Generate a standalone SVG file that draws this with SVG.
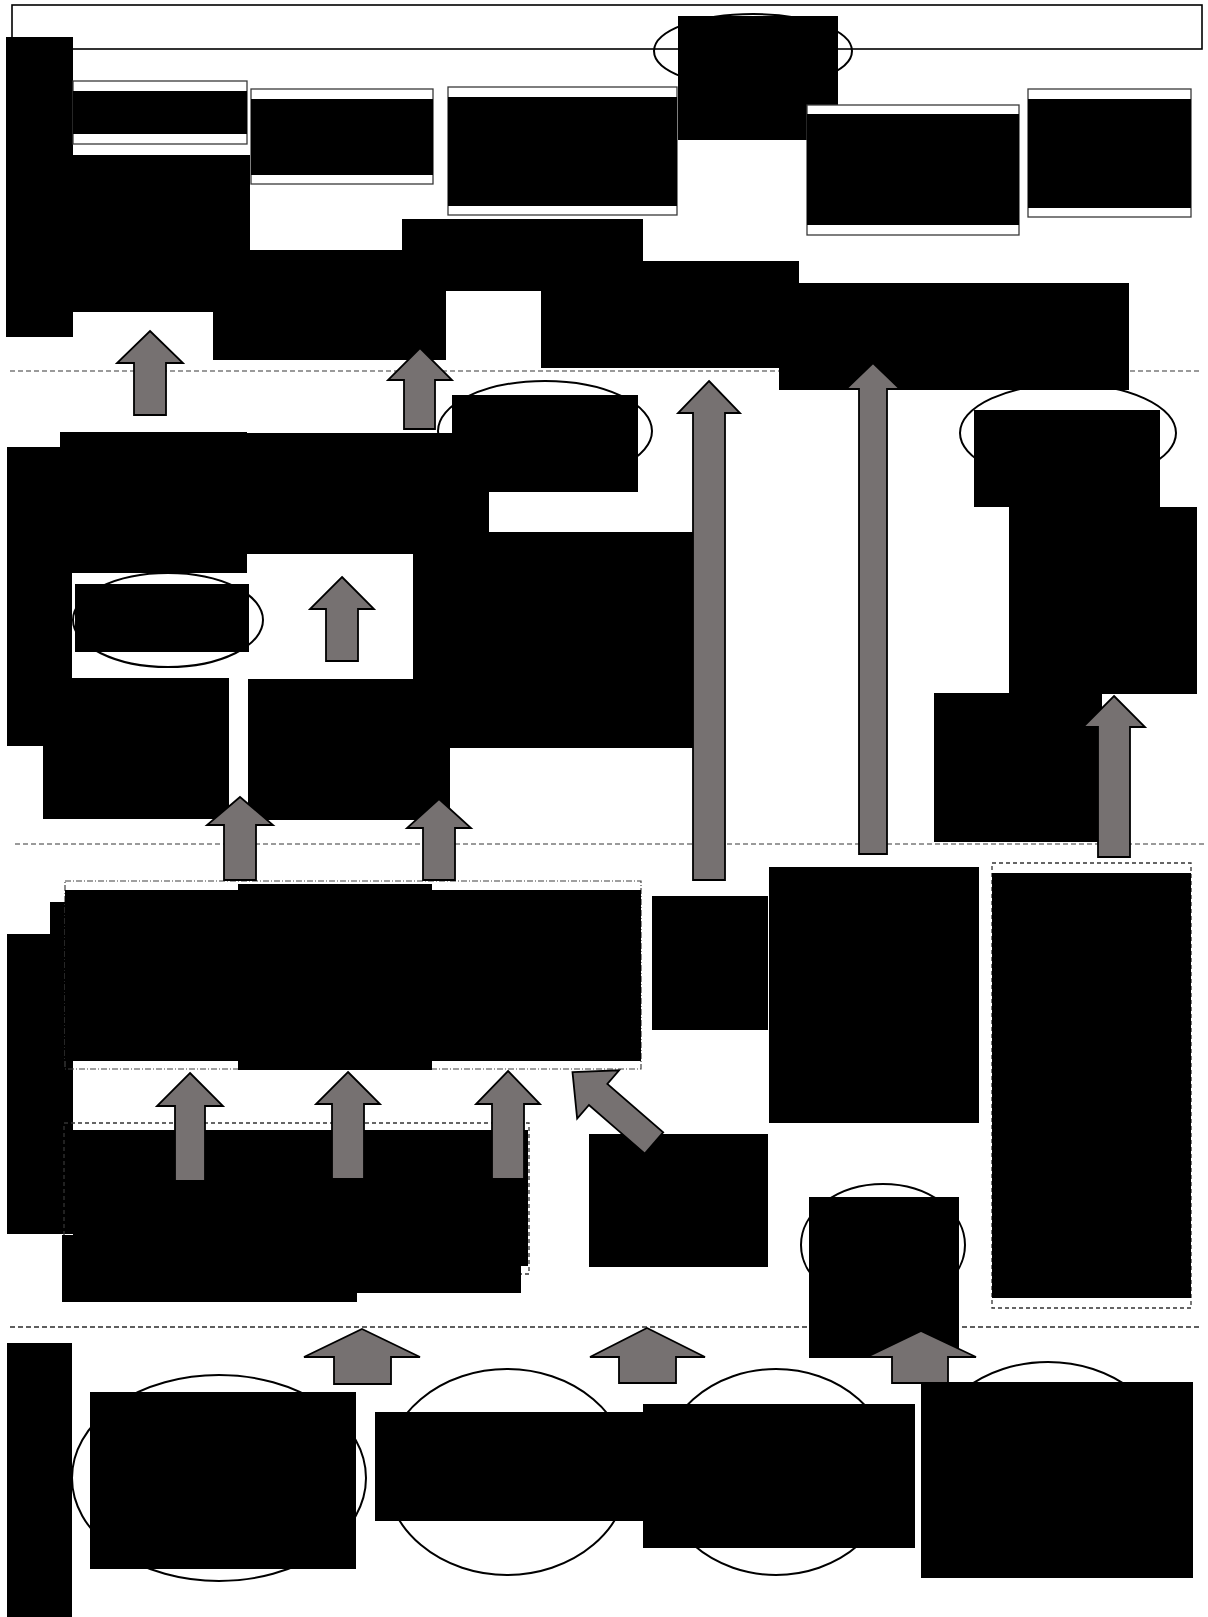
<svg xmlns="http://www.w3.org/2000/svg" width="1208" height="1617" viewBox="0 0 1208 1617">
<style>
.bg{fill:#ffffff}
.k{fill:#000000}
.ol{fill:#ffffff;stroke:#3a3a3a;stroke-width:1.3}
.hdr{fill:#ffffff;stroke:#000000;stroke-width:1.6}
.el{fill:none;stroke:#000000;stroke-width:2}
.sep{fill:none;stroke:#7a7a7a;stroke-width:1.5;stroke-dasharray:5 3}
.sep2{fill:none;stroke:#2a2a2a;stroke-width:1.3;stroke-dasharray:5 3}
.dd{fill:none;stroke:#404040;stroke-width:1.2;stroke-dasharray:6 2 1 2}
.ds{fill:none;stroke:#333333;stroke-width:1.3;stroke-dasharray:4 3}
.ar{fill:#767171;stroke:#000000;stroke-width:1.8;stroke-linejoin:miter}
</style>
<rect class="bg" x="0" y="0" width="1208" height="1617"/>

<!-- separators -->
<line class="sep" x1="10" y1="371" x2="1202" y2="371"/>
<line class="sep" x1="15" y1="844" x2="1207" y2="844"/>
<line class="sep2" x1="10" y1="1327" x2="1202" y2="1327"/>

<!-- top header -->
<g id="header">
<rect class="hdr" x="12" y="5" width="1190" height="44"/>
<ellipse class="el" cx="753" cy="51" rx="99" ry="37"/>
<rect class="k" x="678" y="16" width="160" height="124"/>
</g>
<g id="left-label-1"><rect class="k" x="6" y="37" width="67" height="300"/></g>

<g id="box1">
<rect class="ol" x="73" y="81" width="174" height="63"/>
<rect class="k" x="73" y="91" width="174" height="43"/>
</g>
<g id="box2">
<rect class="ol" x="251" y="89" width="182" height="95"/>
<rect class="k" x="251" y="99" width="182" height="76"/>
</g>
<g id="box3">
<rect class="ol" x="448" y="87" width="229" height="128"/>
<rect class="k" x="448" y="97" width="229" height="109"/>
</g>
<g id="box4">
<rect class="ol" x="807" y="105" width="212" height="130"/>
<rect class="k" x="807" y="114" width="212" height="111"/>
</g>
<g id="box5">
<rect class="ol" x="1028" y="89" width="163" height="128"/>
<rect class="k" x="1028" y="99" width="163" height="109"/>
</g>
<g id="top-text">
<rect class="k" x="73" y="155" width="177" height="157"/>
<rect class="k" x="213" y="250" width="233" height="110"/>
<rect class="k" x="402" y="219" width="241" height="72"/>
<rect class="k" x="541" y="261" width="258" height="107"/>
</g>

<!-- middle section -->
<g id="mid-ellipse-2">
<ellipse class="el" cx="545" cy="431" rx="107" ry="50"/>
<rect class="k" x="452" y="395" width="186" height="97"/>
</g>
<g id="mid-ellipse-right">
<ellipse class="el" cx="1068" cy="433" rx="108" ry="49"/>
<rect class="k" x="974" y="410" width="186" height="97"/>
<rect class="k" x="1009" y="507" width="188" height="187"/>
<rect class="k" x="934" y="693" width="168" height="149"/>
</g>
<g id="top-right-text"><rect class="k" x="779" y="283" width="350" height="107"/></g>

<g id="left-label-2"><rect class="k" x="7" y="447" width="65" height="299"/></g>
<g id="mid-left">
<rect class="k" x="60" y="432" width="187" height="141"/>
<rect class="k" x="247" y="433" width="242" height="121"/>
<rect class="k" x="413" y="532" width="280" height="216"/>
<ellipse class="el" cx="168" cy="620" rx="95" ry="47"/>
<rect class="k" x="75" y="584" width="174" height="68"/>
<rect class="k" x="43" y="678" width="186" height="141"/>
<rect class="k" x="248" y="679" width="202" height="141"/>
</g>

<!-- lower-middle section -->
<g id="left-label-3">
<rect class="k" x="7" y="934" width="66" height="300"/>
<rect class="k" x="50" y="902" width="23" height="167"/>
</g>
<g id="group-dashdot">
<rect class="dd" x="65" y="881" width="576" height="188"/>
<rect class="k" x="65" y="890" width="576" height="171"/>
<rect class="k" x="238" y="884" width="194" height="186"/>
</g>
<g id="group-dashed">
<rect class="ds" x="64" y="1123" width="465" height="151"/>
<rect class="k" x="73" y="1130" width="455" height="136"/>
<rect class="k" x="62" y="1235" width="295" height="67"/>
<rect class="k" x="357" y="1235" width="164" height="58"/>
</g>
<g id="node-a"><rect class="k" x="652" y="896" width="116" height="134"/></g>
<g id="node-b"><rect class="k" x="769" y="867" width="210" height="256"/></g>
<g id="node-c"><rect class="k" x="589" y="1134" width="179" height="133"/></g>
<g id="node-d">
<rect class="ds" x="992" y="863" width="199" height="445"/>
<rect class="k" x="992" y="873" width="199" height="425"/>
</g>
<g id="node-e">
<ellipse class="el" cx="883" cy="1245" rx="82" ry="61"/>
<rect class="k" x="809" y="1197" width="150" height="161"/>
</g>

<!-- bottom section -->
<g id="left-label-4"><rect class="k" x="7" y="1343" width="65" height="274"/></g>
<g id="bottom-1">
<ellipse class="el" cx="219" cy="1478" rx="147" ry="103"/>
<rect class="k" x="90" y="1392" width="266" height="177"/>
</g>
<g id="bottom-2">
<ellipse class="el" cx="507" cy="1472" rx="122" ry="103"/>
<rect class="k" x="375" y="1412" width="268" height="109"/>
</g>
<g id="bottom-3">
<ellipse class="el" cx="776" cy="1472" rx="117" ry="103"/>
<rect class="k" x="643" y="1404" width="272" height="144"/>
</g>
<g id="bottom-4">
<ellipse class="el" cx="1048" cy="1462" rx="122" ry="100"/>
<rect class="k" x="921" y="1382" width="272" height="196"/>
</g>

<!-- connectors -->
<g id="connectors">
<path class="ar" d="M150,331 L183,363 L166,363 L166,415 L134,415 L134,363 L117,363 Z"/>
<path class="ar" d="M420,348 L452,380 L435,380 L435,429 L404,429 L404,380 L388,380 Z"/>
<path class="ar" d="M709,381 L740,413 L725,413 L725,880 L693,880 L693,413 L678,413 Z"/>
<path class="ar" d="M873,363 L900,389 L887,389 L887,854 L859,854 L859,389 L846,389 Z"/>
<path class="ar" d="M1114,696 L1145,727 L1130,727 L1130,857 L1098,857 L1098,727 L1083,727 Z"/>
<path class="ar" d="M342,577 L374,609 L358,609 L358,661 L326,661 L326,609 L310,609 Z"/>
<path class="ar" d="M240,797 L273,825 L256,825 L256,880 L224,880 L224,825 L207,825 Z"/>
<path class="ar" d="M439,799 L471,828 L455,828 L455,880 L423,880 L423,828 L407,828 Z"/>
<path class="ar" d="M190,1073 L223,1106 L205,1106 L205,1181 L175,1181 L175,1106 L157,1106 Z"/>
<path class="ar" d="M348,1072 L380,1104 L364,1104 L364,1179 L332,1179 L332,1104 L316,1104 Z"/>
<path class="ar" d="M508,1071 L540,1104 L524,1104 L524,1179 L492,1179 L492,1104 L476,1104 Z"/>
<path class="ar" transform="translate(654,1143) rotate(-49)" d="M0,-108 L32,-74 L14,-74 L14,0 L-14,0 L-14,-74 L-32,-74 Z"/>
<path class="ar" d="M362,1329 L420,1357 L391,1357 L391,1384 L334,1384 L334,1357 L304,1357 Z"/>
<path class="ar" d="M647,1328 L705,1357 L676,1357 L676,1383 L619,1383 L619,1357 L590,1357 Z"/>
<path class="ar" d="M921,1331 L976,1357 L948,1357 L948,1383 L892,1383 L892,1357 L867,1357 Z"/>
</g>
</svg>
